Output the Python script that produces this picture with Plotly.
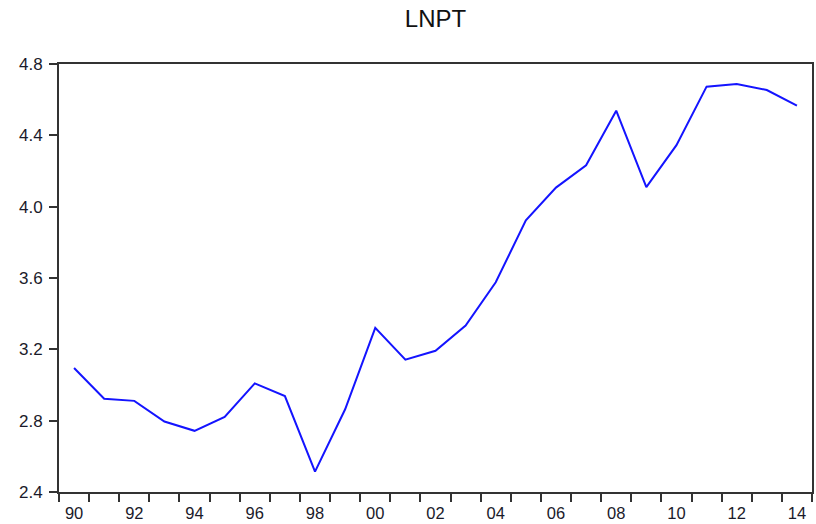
import plotly.graph_objects as go

# Annual series, 1990-2014
years = list(range(1990, 2015))
lnpt = [3.095, 2.923, 2.911, 2.795, 2.743, 2.821, 3.009, 2.938, 2.514, 2.864,
        3.320, 3.142, 3.192, 3.333, 3.576, 3.923, 4.107, 4.232, 4.538, 4.110,
        4.345, 4.673, 4.688, 4.654, 4.566]

# Labels on every other year, two-digit form
label_years = [y for y in years if y % 2 == 0]
label_text = [f"{y % 100:02d}" for y in label_years]

y_ticks = [2.4, 2.8, 3.2, 3.6, 4.0, 4.4, 4.8]

font_family = "Liberation Sans, Arial, sans-serif"
frame_color = "#333333"
label_color = "#1a1a2a"

fig = go.Figure()
fig.add_trace(go.Scatter(
    x=years, y=lnpt, mode="lines",
    line=dict(color="#1414ff", width=2),
    showlegend=False, hoverinfo="skip",
))

fig.update_layout(
    width=816, height=524,
    margin=dict(l=59, r=4, t=64, b=32, autoexpand=False),
    paper_bgcolor="white", plot_bgcolor="white",
    title=dict(text="LNPT", x=0.5, xref="paper", y=0.965, yref="container",
               xanchor="center", yanchor="middle",
               font=dict(family=font_family, size=24, color="#111111")),
    font=dict(family=font_family, size=16, color=label_color),
)

fig.update_xaxes(
    range=[1989.5, 2014.5], automargin=False,
    tickmode="array", tickvals=label_years, ticktext=label_text,
    ticks="outside", ticklen=5, tickcolor="rgba(0,0,0,0)",
    minor=dict(ticks="outside", tick0=1989.5, dtick=1, ticklen=8,
               tickwidth=2, tickcolor=frame_color, showgrid=False),
    showline=True, linecolor=frame_color, linewidth=2, mirror=True,
    showgrid=False, zeroline=False,
    tickfont=dict(family=font_family, size=16.5, color=label_color),
)

fig.update_yaxes(
    range=[2.4, 4.8], automargin=False,
    tickmode="array", tickvals=y_ticks, ticktext=[f"{v:.1f}" for v in y_ticks],
    ticks="outside", ticklen=8, tickwidth=2, tickcolor=frame_color,
    ticklabelstandoff=3,
    showline=True, linecolor=frame_color, linewidth=2, mirror=True,
    showgrid=False, zeroline=False,
    tickfont=dict(family=font_family, size=17, color=label_color),
)

fig.write_html("out.html")
